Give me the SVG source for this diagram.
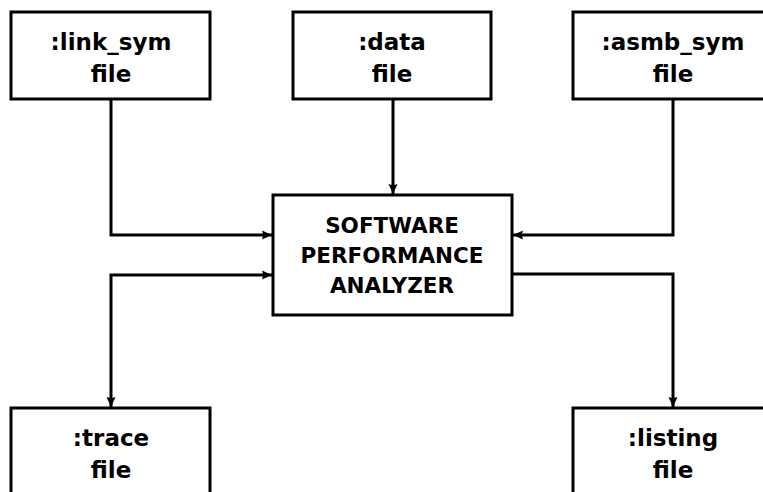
<svg xmlns="http://www.w3.org/2000/svg" width="763" height="492" viewBox="0 0 763 492">
<style>
.box{fill:#fff;stroke:#000;stroke-width:3}
.t{font-family:"DejaVu Sans",sans-serif;font-weight:bold;font-size:23px;fill:#000;text-anchor:middle}
.a{font-size:21.5px}
.c{fill:none;stroke:#000;stroke-width:3}
</style>
<defs>
<marker id="ah" viewBox="0 0 10 10" refX="10" refY="5" markerWidth="10" markerHeight="11" markerUnits="userSpaceOnUse" orient="auto-start-reverse">
<path d="M0,0.5 L10,5 L0,9.5 Q2,5 0,0.5 Z" fill="#000"/>
</marker>
</defs>
<rect width="763" height="492" fill="#fff"/>
<g id="connectors">
<path class="c" d="M111,99 V235 H272" marker-end="url(#ah)"/>
<path class="c" d="M393,99 V194" marker-end="url(#ah)"/>
<path class="c" d="M673,99 V235 H513" marker-end="url(#ah)"/>
<path class="c" d="M272,275 H111 V407" marker-start="url(#ah)" marker-end="url(#ah)"/>
<path class="c" d="M512,274 H673 V407" marker-end="url(#ah)"/>
</g>
<g id="link_sym">
<rect class="box" x="11" y="12" width="199" height="87"/>
<text class="t" x="111" y="50">:link_sym</text>
<text class="t" x="111" y="82">file</text>
</g>
<g id="data">
<rect class="box" x="293" y="12" width="198" height="87"/>
<text class="t" x="392" y="50">:data</text>
<text class="t" x="392" y="82">file</text>
</g>
<g id="asmb_sym">
<rect class="box" x="573" y="12" width="200" height="87"/>
<text class="t" x="673" y="50">:asmb_sym</text>
<text class="t" x="673" y="82">file</text>
</g>
<g id="analyzer">
<rect class="box" x="273" y="195" width="239" height="120"/>
<text class="t a" x="392" y="233">SOFTWARE</text>
<text class="t a" x="392" y="263">PERFORMANCE</text>
<text class="t a" x="392" y="293">ANALYZER</text>
</g>
<g id="trace">
<rect class="box" x="11" y="408" width="199" height="100"/>
<text class="t" x="111" y="446">:trace</text>
<text class="t" x="111" y="478">file</text>
</g>
<g id="listing">
<rect class="box" x="573" y="408" width="200" height="100"/>
<text class="t" x="673" y="446">:listing</text>
<text class="t" x="673" y="478">file</text>
</g>
</svg>
